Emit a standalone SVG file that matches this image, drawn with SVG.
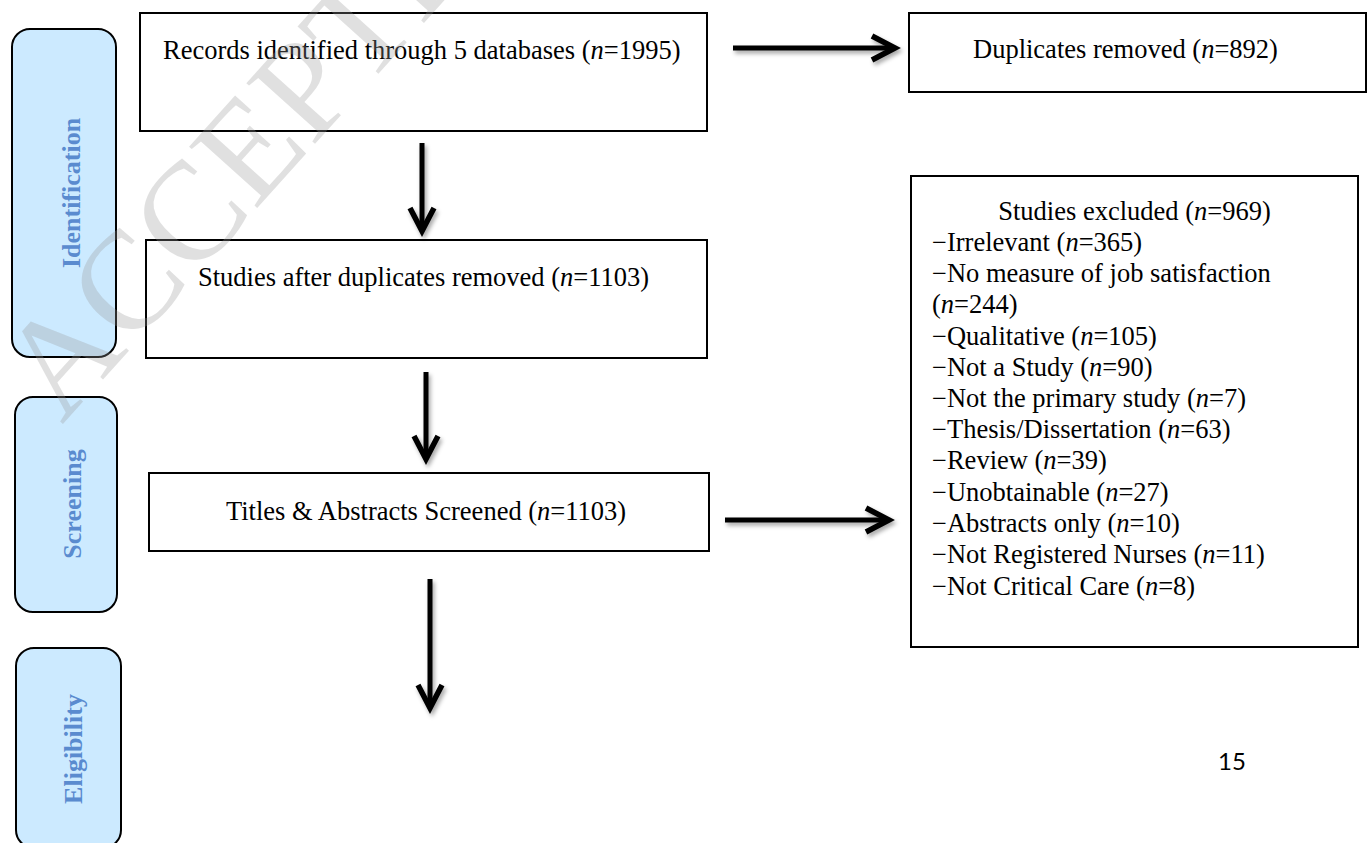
<svg xmlns="http://www.w3.org/2000/svg" width="1371" height="843" viewBox="0 0 1371 843">
  <defs>
    <style>
      .box { fill: #ffffff; stroke: #000000; stroke-width: 2; }
      .phase { fill: #CCEAFF; stroke: #000000; stroke-width: 2; }
      .phase-label { font-family: "Liberation Serif", "Times New Roman", serif; font-weight: bold; font-size: 26px; fill: #5A8BCF; text-anchor: middle; }
      .t { font-family: "Liberation Serif", "Times New Roman", serif; font-size: 26.5px; fill: #000000; }
      .it { font-style: italic; }
      .conn { stroke: #000000; stroke-width: 5; fill: none; marker-end: url(#chev); filter: url(#shadow); }
      .wm { font-family: "Liberation Serif", "Times New Roman", serif; font-size: 140px; fill: #999999; fill-opacity: 0.3; }
      .pg { font-family: Lato, "Open Sans", sans-serif; font-size: 24px; fill: #000000; }
    </style>
    <marker id="chev" markerUnits="userSpaceOnUse" markerWidth="40" markerHeight="40" refX="0" refY="0" viewBox="-30 -20 40 40" orient="auto" overflow="visible">
      <path d="M-23,-12 L0,0 L-23,12" fill="none" stroke="#000000" stroke-width="5.5" stroke-linejoin="miter"/>
    </marker>
    <filter id="shadow" filterUnits="userSpaceOnUse" x="0" y="0" width="1371" height="843">
      <feDropShadow dx="2" dy="3" stdDeviation="2" flood-color="#000000" flood-opacity="0.35"/>
    </filter>
  </defs>

  <g id="phase-identification">
    <rect class="phase" x="12" y="29" width="104" height="328" rx="18" ry="18"/>
    <text class="phase-label" transform="translate(80,193) rotate(-90)">Identification</text>
  </g>
  <g id="phase-screening">
    <rect class="phase" x="15" y="397" width="102" height="215" rx="18" ry="18"/>
    <text class="phase-label" transform="translate(81,504) rotate(-90)">Screening</text>
  </g>
  <g id="phase-eligibility">
    <rect class="phase" x="16" y="648" width="105" height="200" rx="18" ry="18"/>
    <text class="phase-label" transform="translate(82,749) rotate(-90)">Eligibility</text>
  </g>

  <g id="node-records">
    <rect class="box" x="140" y="13" width="567" height="118"/>
    <text class="t" x="163" y="59">Records identified through 5 databases (<tspan class="it">n</tspan>=1995)</text>
  </g>
  <g id="node-duplicates">
    <rect class="box" x="909" y="13" width="457" height="79"/>
    <text class="t" x="973" y="58">Duplicates removed (<tspan class="it">n</tspan>=892)</text>
  </g>
  <g id="node-after-duplicates">
    <rect class="box" x="146" y="240" width="561" height="118"/>
    <text class="t" x="198" y="286">Studies after duplicates removed (<tspan class="it">n</tspan>=1103)</text>
  </g>
  <g id="node-screened">
    <rect class="box" x="149" y="473" width="560" height="78"/>
    <text class="t" x="226" y="520">Titles &amp; Abstracts Screened (<tspan class="it">n</tspan>=1103)</text>
  </g>
  <g id="node-excluded">
    <rect class="box" x="911" y="176" width="447" height="471"/>
    <text class="t" x="1134.5" y="220" text-anchor="middle">Studies excluded (<tspan class="it">n</tspan>=969)</text>
    <text class="t" x="932" y="251">−Irrelevant (<tspan class="it">n</tspan>=365)</text>
    <text class="t" x="932" y="282">−No measure of job satisfaction</text>
    <text class="t" x="932" y="313">(<tspan class="it">n</tspan>=244)</text>
    <text class="t" x="932" y="344.5">−Qualitative (<tspan class="it">n</tspan>=105)</text>
    <text class="t" x="932" y="375.5">−Not a Study (<tspan class="it">n</tspan>=90)</text>
    <text class="t" x="932" y="406.5">−Not the primary study (<tspan class="it">n</tspan>=7)</text>
    <text class="t" x="932" y="437.5">−Thesis/Dissertation (<tspan class="it">n</tspan>=63)</text>
    <text class="t" x="932" y="469">−Review (<tspan class="it">n</tspan>=39)</text>
    <text class="t" x="932" y="501">−Unobtainable (<tspan class="it">n</tspan>=27)</text>
    <text class="t" x="932" y="532">−Abstracts only (<tspan class="it">n</tspan>=10)</text>
    <text class="t" x="932" y="563">−Not Registered Nurses (<tspan class="it">n</tspan>=11)</text>
    <text class="t" x="932" y="594.5">−Not Critical Care (<tspan class="it">n</tspan>=8)</text>
  </g>

  <g id="connectors">
    <path class="conn" d="M733,48 L895,48"/>
    <path class="conn" d="M422,143 L422,231"/>
    <path class="conn" d="M426,372 L426,459"/>
    <path class="conn" d="M725,520 L889,520"/>
    <path class="conn" d="M430,579 L430,708"/>
  </g>

  <text class="pg" x="1218" y="770">15</text>

  <text class="wm" transform="translate(62,425) rotate(-48)">ACCEPTED MANUSCRIPT</text>
</svg>
